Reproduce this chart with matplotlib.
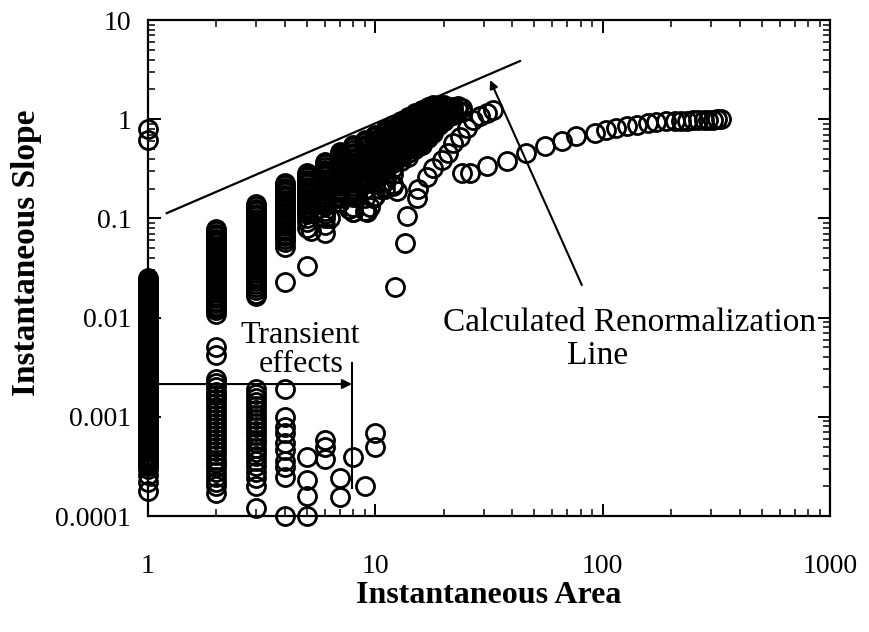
import numpy as np
import matplotlib
matplotlib.use("Agg")
from matplotlib import pyplot as plt
from matplotlib.ticker import FixedLocator, FuncFormatter, LogLocator, NullFormatter

plt.rcParams['font.family'] = ['Liberation Serif', 'DejaVu Serif']

# slope values recorded at each integer area (columns of cells)
x1_y = [0.8, 0.62,
        0.025, 0.0239, 0.0228, 0.0218, 0.0208, 0.0199, 0.019, 0.0181, 0.0173, 0.0166,
        0.0158, 0.0151, 0.0144, 0.0138, 0.0132, 0.0126, 0.012, 0.0115, 0.011, 0.0105,
        0.01, 0.00955, 0.00912, 0.00871, 0.00832, 0.00794, 0.00759, 0.00724, 0.00692,
        0.00661, 0.00631, 0.00603, 0.00575, 0.0055, 0.00525, 0.00501, 0.00479, 0.00457,
        0.00437, 0.00417, 0.00398, 0.0038, 0.00363, 0.00347, 0.00331, 0.00316, 0.00302,
        0.00288, 0.00275, 0.00263, 0.00251, 0.0024, 0.00229, 0.00219, 0.00209, 0.002,
        0.00191, 0.00182, 0.00174, 0.00166, 0.00158, 0.00151, 0.00145, 0.00138, 0.00132,
        0.00126, 0.0012, 0.00115, 0.0011, 0.00105, 0.001, 0.000955, 0.000912, 0.000871,
        0.000832, 0.000794, 0.000759, 0.000724, 0.000692, 0.000661, 0.000631, 0.000603,
        0.000575, 0.00055, 0.000525, 0.000501, 0.000479, 0.000457, 0.000437, 0.000417,
        0.000398, 0.00038, 0.000363, 0.000347, 0.000331, 0.000316, 0.0003,
        0.00026, 0.00022, 0.00018]
x2_y = [0.078, 0.074, 0.07, 0.066, 0.062, 0.059, 0.056, 0.053, 0.05, 0.047, 0.044,
        0.042, 0.04, 0.037, 0.035, 0.033, 0.031, 0.0295, 0.028, 0.0265, 0.025, 0.0235,
        0.022, 0.021, 0.0198, 0.0187, 0.0176, 0.0166, 0.0157, 0.0148, 0.014, 0.0132,
        0.0125, 0.0118, 0.011,
        0.005, 0.0042,
        0.0024, 0.0022, 0.002, 0.0018, 0.00166, 0.0015, 0.00138, 0.00125, 0.00115,
        0.00105, 0.00095, 0.00087, 0.00079, 0.00072, 0.00066, 0.0006, 0.00055, 0.0005,
        0.00045, 0.00041, 0.00037, 0.00034, 0.00031, 0.00028, 0.00025, 0.00022, 0.0002,
        0.00017]
x3_y = [0.14, 0.132, 0.125, 0.118, 0.111, 0.105, 0.099, 0.093, 0.088, 0.083, 0.078,
        0.074, 0.07, 0.066, 0.062, 0.058, 0.055, 0.052, 0.049, 0.046, 0.043, 0.041,
        0.039, 0.036, 0.034, 0.032, 0.03, 0.028, 0.0265, 0.025, 0.0235, 0.022, 0.0205,
        0.019, 0.0175, 0.0165,
        0.0019, 0.0017, 0.00155, 0.0014, 0.00128, 0.00116, 0.00105, 0.00096, 0.00087,
        0.00079, 0.00072, 0.00065, 0.00059, 0.00054, 0.00049, 0.00044, 0.0004, 0.00036,
        0.00032, 0.00028, 0.00024, 0.0002, 0.00012]
x4_y = [0.23, 0.218, 0.205, 0.195, 0.184, 0.174, 0.164, 0.155, 0.147, 0.139, 0.131,
        0.124, 0.117, 0.111, 0.105, 0.099, 0.094, 0.089, 0.084, 0.079, 0.075, 0.07,
        0.066, 0.062, 0.058, 0.052, 0.023,
        0.0019, 0.001, 0.00079, 0.00068, 0.00055, 0.00046, 0.00036, 0.00031, 0.00025,
        0.0001]
x5_y = [0.29, 0.275, 0.26, 0.245, 0.232, 0.22, 0.207, 0.196, 0.185, 0.175, 0.165,
        0.156, 0.147, 0.139, 0.131, 0.124, 0.117, 0.11, 0.1, 0.092, 0.08, 0.033,
        0.00039, 0.00023, 0.00016, 0.0001]
x6_y = [0.37, 0.35, 0.33, 0.31, 0.295, 0.28, 0.265, 0.25, 0.236, 0.222, 0.21, 0.198,
        0.187, 0.176, 0.166, 0.157, 0.148, 0.14, 0.132, 0.12, 0.11, 0.1, 0.086, 0.072,
        0.00058, 0.0005, 0.00038]
x7_y = [0.47, 0.45, 0.43, 0.41, 0.39, 0.375, 0.36, 0.345, 0.33, 0.315, 0.3, 0.285,
        0.27, 0.26, 0.25, 0.24, 0.23, 0.22, 0.21, 0.2, 0.19, 0.18, 0.17, 0.16, 0.145,
        0.00024, 0.000156]
x8_y = [0.55, 0.52, 0.49, 0.46, 0.435, 0.41, 0.385, 0.365, 0.345, 0.325, 0.305, 0.29,
        0.27, 0.255, 0.24, 0.225, 0.21, 0.2, 0.183, 0.165, 0.13, 0.115, 0.00039]
x9_y = [0.62, 0.585, 0.55, 0.52, 0.49, 0.46, 0.435, 0.41, 0.385, 0.365, 0.345, 0.325,
        0.305, 0.29, 0.27, 0.255, 0.24, 0.22, 0.2, 0.16, 0.12, 0.0002]
x10_y = [0.7, 0.66, 0.62, 0.585, 0.55, 0.52, 0.49, 0.46, 0.435, 0.41, 0.385, 0.365,
         0.345, 0.325, 0.305, 0.29, 0.27, 0.25, 0.22, 0.17, 0.00068, 0.0005]
x11_y = [0.78, 0.74, 0.7, 0.66, 0.62, 0.585, 0.55, 0.52, 0.49, 0.46, 0.435, 0.41,
         0.385, 0.365, 0.345, 0.325, 0.305, 0.28, 0.24, 0.2]
x12_y = [0.87, 0.82, 0.78, 0.74, 0.7, 0.66, 0.62, 0.585, 0.55, 0.52, 0.49, 0.46, 0.435,
         0.41, 0.385, 0.36, 0.32, 0.28, 0.21]
x13_y = [0.95, 0.9, 0.85, 0.8, 0.76, 0.72, 0.68, 0.64, 0.6, 0.57, 0.54, 0.51, 0.48,
         0.45, 0.42, 0.38]
x14_y = [1.05, 0.99, 0.94, 0.89, 0.84, 0.79, 0.75, 0.71, 0.67, 0.63, 0.6, 0.56, 0.53,
         0.5, 0.46, 0.42]
x15_y = [1.15, 1.09, 1.03, 0.97, 0.92, 0.87, 0.82, 0.77, 0.73, 0.69, 0.65, 0.61, 0.58,
         0.54, 0.5]
x16_y = [1.25, 1.18, 1.11, 1.05, 0.99, 0.94, 0.89, 0.84, 0.79, 0.75, 0.7, 0.66, 0.62,
         0.58, 0.55]
x17_y = [1.33, 1.26, 1.19, 1.12, 1.06, 1.0, 0.95, 0.9, 0.85, 0.8, 0.75, 0.7, 0.64]
x18_y = [1.39, 1.31, 1.24, 1.17, 1.1, 1.04, 0.98, 0.92, 0.87, 0.82, 0.77, 0.73]
x19_y = [1.4, 1.32, 1.25, 1.18, 1.11, 1.05, 0.99, 0.93, 0.88]
x20_y = [1.38, 1.3, 1.23, 1.16, 1.09, 1.02, 0.95]
x21_y = [1.3, 1.19, 1.08]
x22_y = [1.33, 1.21, 1.1]
x23_y = [1.35, 1.23]
x24_y = [1.3, 1.18]

# open circles scattered under the dense band
mid_x = [5.2, 6.3, 6.8, 7.7, 8.0, 8.3, 9.2, 9.5, 9.8, 10.5, 11.2, 12.0, 12.5]
mid_y = [0.075, 0.1, 0.16, 0.125, 0.116, 0.165, 0.117, 0.13, 0.16, 0.2, 0.24, 0.22, 0.19]

# branch rising from ~12 up towards the line
rise_x = [12.2, 13.5, 13.8, 15.3, 15.4, 16.9, 17.9, 19.7, 20.9, 22.0, 23.5, 25.2, 26.9,
          28.8, 31.0, 32.9]
rise_y = [0.0205, 0.0565, 0.107, 0.159, 0.2, 0.26, 0.32, 0.385, 0.46, 0.57, 0.66, 0.81,
          0.98, 1.08, 1.15, 1.23]

# long run flattening towards slope 1
long_x = [24, 26, 31, 38, 46, 56, 66, 76, 93, 103, 114, 128, 142, 158, 172, 190, 208,
          222, 236, 250, 264, 278, 292, 306, 320, 330]
long_y = [0.29, 0.29, 0.34, 0.38, 0.46, 0.54, 0.61, 0.68, 0.73, 0.77, 0.81, 0.85, 0.88,
          0.91, 0.93, 0.95, 0.96, 0.97, 0.97, 0.98, 0.98, 0.99, 0.99, 0.99, 1.0, 1.0]

# calculated renormalization line end points
line_x = [1.21, 43.3]
line_y = [0.113, 3.86]

columns = [x1_y, x2_y, x3_y, x4_y, x5_y, x6_y, x7_y, x8_y, x9_y, x10_y, x11_y, x12_y,
           x13_y, x14_y, x15_y, x16_y, x17_y, x18_y, x19_y, x20_y, x21_y, x22_y,
           x23_y, x24_y]

fig = plt.figure(figsize=(8.7, 6.32), dpi=100)
ax = fig.add_axes([0.170, 0.1835, 0.784, 0.7848])
ax.set_xscale('log')
ax.set_yscale('log')

mk = dict(linestyle='none', marker='o', mfc='none', mec='black', ms=13, mew=2.0,
          clip_on=False, zorder=3)
for i, ys in enumerate(columns):
    ax.plot([i + 1] * len(ys), ys, **mk)
ax.plot(mid_x, mid_y, **mk)
ax.plot(rise_x, rise_y, **mk)
ax.plot(long_x, long_y, **mk)

ax.plot(line_x, line_y, color='black', lw=1.6, zorder=4)

ax.set_xlim(1, 1000)
ax.set_ylim(1e-4, 10)

# annotations
ax.annotate('', xy=(7.9, 0.00214), xytext=(1.0, 0.00214),
            arrowprops=dict(arrowstyle='-|>', color='black', lw=1.5,
                            mutation_scale=14, shrinkA=0, shrinkB=0), zorder=5)
ax.plot([7.9, 7.9], [0.0035, 0.00019], color='black', lw=1.5, zorder=5)
ax.text(4.7, 0.0047, 'Transient\neffects', ha='center', va='center',
        fontsize=23, linespacing=1.0, zorder=6)

ax.annotate('', xy=(32, 2.48), xytext=(81, 0.0213),
            arrowprops=dict(arrowstyle='-|>', color='black', lw=1.5,
                            mutation_scale=12, shrinkA=0, shrinkB=0), zorder=5)
ax.text(132, 0.0089, 'Calculated Renormalization', ha='center', va='center',
        fontsize=24, zorder=6)
ax.text(95, 0.0041, 'Line', ha='center', va='center', fontsize=24, zorder=6)

# axes styling
for s in ax.spines.values():
    s.set_linewidth(1.6)
ax.xaxis.set_major_locator(FixedLocator([1, 10, 100, 1000]))
ax.yaxis.set_major_locator(FixedLocator([1e-4, 1e-3, 1e-2, 1e-1, 1, 10]))
ax.xaxis.set_minor_locator(LogLocator(base=10, subs=np.arange(2, 10)))
ax.yaxis.set_minor_locator(LogLocator(base=10, subs=np.arange(2, 10)))
fmt = FuncFormatter(lambda v, p: '%g' % v)
ax.xaxis.set_major_formatter(fmt)
ax.yaxis.set_major_formatter(fmt)
ax.xaxis.set_minor_formatter(NullFormatter())
ax.yaxis.set_minor_formatter(NullFormatter())
ax.tick_params(which='both', direction='in', top=True, right=True, labelsize=20)
ax.tick_params(which='major', length=9, width=1.4)
ax.tick_params(which='minor', length=5, width=1.1)
ax.tick_params(axis='x', which='major', pad=27)
ax.tick_params(axis='y', which='major', pad=12)

ax.set_xlabel('Instantaneous Area', fontsize=23, fontweight='bold')
ax.set_ylabel('Instantaneous Slope', fontsize=24, fontweight='bold')
ax.xaxis.set_label_coords(0.5, -0.13)
ax.yaxis.set_label_coords(-0.155, 0.53)

fig.savefig('out.png', dpi=100)
